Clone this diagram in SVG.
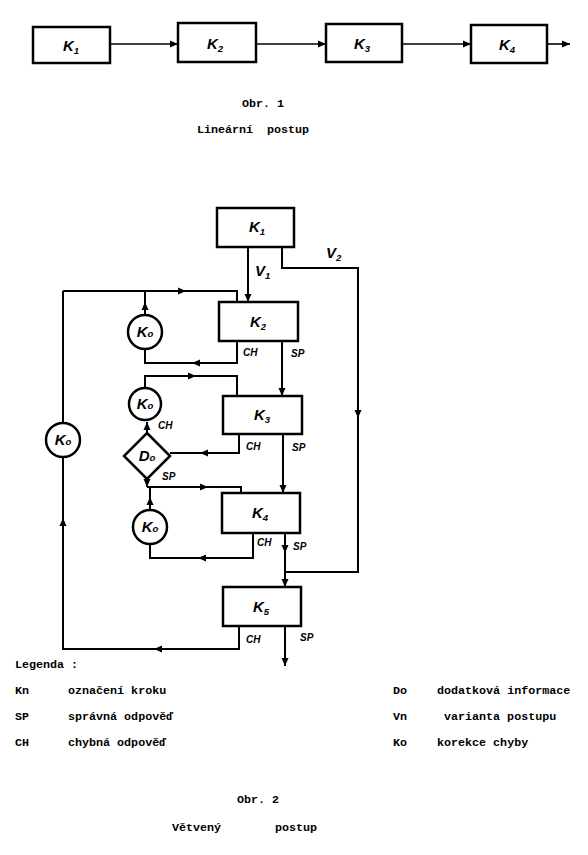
<svg xmlns="http://www.w3.org/2000/svg" xmlns:xlink="http://www.w3.org/1999/xlink" width="588" height="855" viewBox="0 0 588 855">
<style>
.box{fill:#fff;stroke:#000;stroke-width:2.5}
.ln{fill:none;stroke:#000;stroke-width:2}
.ln1{fill:none;stroke:#000;stroke-width:1.6}
.hw{font-family:"Liberation Sans",Arial,sans-serif;font-style:italic;font-weight:bold;font-size:15px;fill:#000}
.sub{font-size:9.5px}
.sm{font-family:"Liberation Sans",Arial,sans-serif;font-style:italic;font-weight:bold;font-size:10px;fill:#000}
.tw{font-family:"Liberation Mono","Courier New",monospace;font-weight:bold;font-size:11.7px;fill:#000}
</style>
<defs>
<path id="ah" d="M0,0 L-8,-3.5 L-8,3.5 Z" fill="#000"/>
<marker id="me" markerWidth="10" markerHeight="8" refX="8" refY="4" orient="auto" markerUnits="userSpaceOnUse">
<path d="M0,0.5 L8,4 L0,7.5 Z" fill="#000"/>
</marker>
</defs>
<rect width="588" height="855" fill="#fff"/>

<!-- Figure 1 -->
<g id="fig1-connectors">
<path class="ln1" d="M110,44 H178" marker-end="url(#me)"/>
<path class="ln1" d="M256,44 H326" marker-end="url(#me)"/>
<path class="ln1" d="M402,44 H471" marker-end="url(#me)"/>
<path class="ln1" d="M547,44 H570" marker-end="url(#me)"/>
</g>
<g id="f1-k1"><rect class="box" x="33" y="27" width="77" height="36"/><text class="hw" x="63" y="51">K<tspan class="sub" dy="3">1</tspan></text></g>
<g id="f1-k2"><rect class="box" x="178" y="23" width="78" height="39"/><text class="hw" x="207" y="49">K<tspan class="sub" dy="3">2</tspan></text></g>
<g id="f1-k3"><rect class="box" x="326" y="24" width="76" height="38"/><text class="hw" x="354" y="49">K<tspan class="sub" dy="3">3</tspan></text></g>
<g id="f1-k4"><rect class="box" x="471" y="25" width="76" height="38"/><text class="hw" x="499" y="50">K<tspan class="sub" dy="3">4</tspan></text></g>
<text class="tw" x="263" y="107" text-anchor="middle">Obr. 1</text>
<text class="tw" x="253" y="133" text-anchor="middle" xml:space="preserve">Lineární  postup</text>

<!-- Figure 2 connectors -->
<g id="connectors">
<path class="ln" d="M248,247 V302" marker-end="url(#me)"/>
<path class="ln" d="M282,247 V268 H358 V572 H285"/>
<use xlink:href="#ah" transform="translate(358,418) rotate(90)"/>
<path class="ln" d="M282,341 V396" marker-end="url(#me)"/>
<path class="ln" d="M237,341 V363 H145 V349"/>
<use xlink:href="#ah" transform="translate(192,363) rotate(180)"/>
<path class="ln" d="M145,315 V291"/>
<use xlink:href="#ah" transform="translate(145,302) rotate(-90)"/>
<path class="ln" d="M63,291 H237 V302"/>
<use xlink:href="#ah" transform="translate(186,291)"/>
<path class="ln" d="M239,626 V649 H63 V291"/>
<use xlink:href="#ah" transform="translate(154,649) rotate(180)"/>
<use xlink:href="#ah" transform="translate(63,518) rotate(-90)"/>
<path class="ln" d="M145,388 V376 H237 V396"/>
<use xlink:href="#ah" transform="translate(196,376)"/>
<path class="ln" d="M239,434 V453 H170"/>
<use xlink:href="#ah" transform="translate(200,453) rotate(180)"/>
<path class="ln" d="M147,433 V422" marker-end="url(#me)"/>
<path class="ln" d="M147,479 V487" marker-end="url(#me)"/>
<path class="ln" d="M147,487 H241 V493"/>
<use xlink:href="#ah" transform="translate(208,487)"/>
<path class="ln" d="M150,510 V487"/>
<use xlink:href="#ah" transform="translate(150,497) rotate(-90)"/>
<path class="ln" d="M283,434 V493" marker-end="url(#me)"/>
<path class="ln" d="M253,533 V558 H150 V544"/>
<use xlink:href="#ah" transform="translate(198,558) rotate(180)"/>
<path class="ln" d="M285,533 V587" marker-end="url(#me)"/>
<use xlink:href="#ah" transform="translate(285,553) rotate(90)"/>
<path class="ln" d="M285,626 V666" marker-end="url(#me)"/>
</g>

<!-- connector labels -->
<g id="labels">
<text class="hw" x="255" y="276">V<tspan class="sub" dy="3">1</tspan></text>
<text class="hw" x="326" y="258">V<tspan class="sub" dy="3">2</tspan></text>
<text class="sm" x="243" y="356">CH</text>
<text class="sm" x="291" y="357">SP</text>
<text class="sm" x="246" y="450">CH</text>
<text class="sm" x="292" y="451">SP</text>
<text class="sm" x="158" y="429">CH</text>
<text class="sm" x="162" y="480">SP</text>
<text class="sm" x="257" y="546">CH</text>
<text class="sm" x="293" y="550">SP</text>
<text class="sm" x="246" y="643">CH</text>
<text class="sm" x="300" y="641">SP</text>
</g>

<!-- Figure 2 nodes -->
<g id="k1"><rect class="box" x="217" y="208" width="77" height="39"/><text class="hw" x="249" y="232">K<tspan class="sub" dy="3">1</tspan></text></g>
<g id="k2"><rect class="box" x="219" y="302" width="79" height="39"/><text class="hw" x="250" y="327">K<tspan class="sub" dy="3">2</tspan></text></g>
<g id="k3"><rect class="box" x="223" y="396" width="79" height="38"/><text class="hw" x="254" y="420">K<tspan class="sub" dy="3">3</tspan></text></g>
<g id="k4"><rect class="box" x="222" y="493" width="78" height="40"/><text class="hw" x="252" y="518">K<tspan class="sub" dy="3">4</tspan></text></g>
<g id="k5"><rect class="box" x="223" y="587" width="78" height="39"/><text class="hw" x="253" y="612">K<tspan class="sub" dy="3">5</tspan></text></g>
<g id="ko1"><circle class="box" cx="145" cy="332" r="17"/><text class="hw" x="145" y="337" text-anchor="middle">K<tspan class="sub">o</tspan></text></g>
<g id="ko2"><circle class="box" cx="145" cy="404" r="16"/><text class="hw" x="145" y="409" text-anchor="middle">K<tspan class="sub">o</tspan></text></g>
<g id="do"><path class="box" d="M147,433 L170,456 L147,479 L124,456 Z"/><text class="hw" x="147" y="461" text-anchor="middle">D<tspan class="sub">o</tspan></text></g>
<g id="ko3"><circle class="box" cx="150" cy="527" r="17"/><text class="hw" x="150" y="532" text-anchor="middle">K<tspan class="sub">o</tspan></text></g>
<g id="ko4"><circle class="box" cx="63" cy="440" r="17"/><text class="hw" x="63" y="445" text-anchor="middle">K<tspan class="sub">o</tspan></text></g>

<!-- Legend -->
<g id="legend" class="tw">
<text x="15" y="668">Legenda :</text>
<text x="15" y="694">Kn</text><text x="68" y="694">označení kroku</text>
<text x="15" y="720">SP</text><text x="68" y="720">správná odpověď</text>
<text x="15" y="746">CH</text><text x="68" y="746">chybná odpověď</text>
<text x="393" y="694">Do</text><text x="437" y="694">dodatková informace</text>
<text x="393" y="720">Vn</text><text x="444" y="720">varianta postupu</text>
<text x="393" y="746">Ko</text><text x="437" y="746">korekce chyby</text>
</g>
<text class="tw" x="237" y="803">Obr. 2</text>
<text class="tw" y="831"><tspan x="172">Větvený</tspan><tspan x="275">postup</tspan></text>
</svg>
